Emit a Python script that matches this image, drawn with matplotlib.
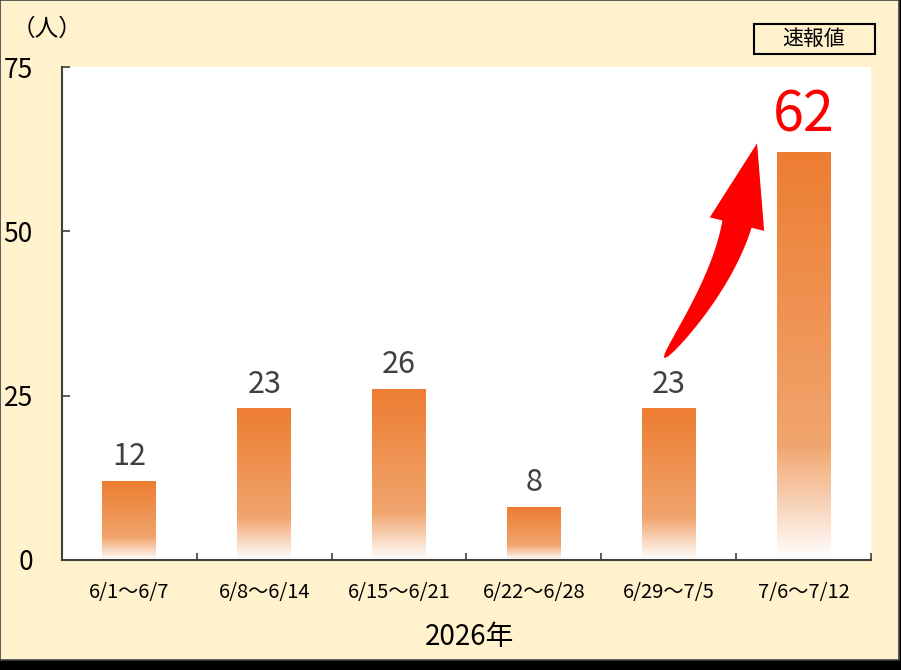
import numpy as np
import matplotlib
matplotlib.use("Agg")
import matplotlib.pyplot as plt
from matplotlib.colors import LinearSegmentedColormap
from matplotlib.patches import Rectangle, Polygon

plt.rcParams['font.family'] = ['Noto Sans CJK JP', 'DejaVu Sans']

# データ
categories = ['6/1～6/7', '6/8～6/14', '6/15～6/21', '6/22～6/28', '6/29～7/5', '7/6～7/12']
values = [12, 23, 26, 8, 23, 62]
yticks = [0, 25, 50, 75]

W, H = 901, 670
fig = plt.figure(figsize=(W / 100, H / 100), dpi=100)
fig.patch.set_facecolor('black')

# 背景（薄い黄色）と枠
fig.add_artist(Rectangle((0, 10 / H), 899 / W, 660 / H, transform=fig.transFigure,
                         facecolor='#FFF2CC', edgecolor='#404040', lw=1.2, zorder=0))

ax = fig.add_axes([62 / W, 110 / H, 809 / W, 493 / H])
ax.set_facecolor('white')

# グラデーションの棒
cmap = LinearSegmentedColormap.from_list('grad', [(0.0, '#ED7D31'), (0.72, '#F1A56E'), (1.0, '#FFFFFF')])
grad = np.linspace(0, 1, 256).reshape(-1, 1)
x = np.arange(len(categories))
bw = 0.40
bars = ax.bar(x, values, width=bw, color='none')
for b in bars:
    ax.imshow(grad, cmap=cmap, aspect='auto', interpolation='bicubic',
              extent=[b.get_x(), b.get_x() + b.get_width(), 0, b.get_height()], zorder=2)
ax.set_xlim(-0.5, len(categories) - 0.5)
ax.set_ylim(0, 75)

# 値ラベル
for i, v in enumerate(values):
    if i == len(values) - 1:
        ax.annotate(str(v), (i, v), xytext=(0, 15), textcoords='offset points',
                    ha='center', va='baseline', fontsize=40, color='#FF0000')
    else:
        ax.annotate(str(v), (i, v), xytext=(0, 11.5), textcoords='offset points',
                    ha='center', va='baseline', fontsize=22, color='#404040')

# 軸
for s in ['top', 'right']:
    ax.spines[s].set_visible(False)
for s in ['left', 'bottom']:
    ax.spines[s].set_color('#404040')
    ax.spines[s].set_linewidth(1.5)
ax.set_yticks(yticks)
ax.tick_params(axis='y', direction='in', length=6, width=1.2, color='#404040',
               labelsize=19, pad=21, labelcolor='black')
ax.set_xticks(x)
ax.set_xticklabels(categories)
ax.tick_params(axis='x', which='major', length=0, labelsize=14.5, pad=16, labelcolor='black')
ax.set_xticks(np.arange(len(categories) + 1) - 0.5, minor=True)
ax.tick_params(axis='x', which='minor', direction='in', length=5, width=1.2, color='#404040')

# 矢印（5本目のラベルから6本目の棒へ）
tail = ax.transData.transform((3.965, 30.7))
base = ax.transData.transform((4.506, 51.1))
tip = ax.transData.transform((4.655, 63.4))
d = (tip - base) / np.linalg.norm(tip - base)
ctrl = base - 60 * d
t = np.linspace(0, 1, 60)[:, None]
curve = (1 - t) ** 2 * tail + 2 * (1 - t) * t * ctrl + t ** 2 * base
deriv = 2 * (1 - t) * (ctrl - tail) + 2 * t * (base - ctrl)
deriv = deriv / np.linalg.norm(deriv, axis=1, keepdims=True)
normal = np.column_stack([-deriv[:, 1], deriv[:, 0]])
half = 15 * t ** 0.5
left = curve + normal * half
right = curve - normal * half
n_end = np.array([-d[1], d[0]])
head = np.array([base + n_end * 28, tip, base - n_end * 28])
pts_px = np.vstack([left, head, right[::-1]])
pts = ax.transData.inverted().transform(pts_px)
ax.add_patch(Polygon(pts, closed=True, facecolor='#FF0000', edgecolor='none', zorder=4))

# テキスト
fig.text(47 / W, 1 - 29 / H, '（人）', ha='center', va='center', fontsize=17)
fig.text(470 / W, 1 - 645 / H, '2026年', ha='center', va='baseline', fontsize=20)
fig.add_artist(Rectangle((754 / W, 1 - 54 / H), 121 / W, 30 / H, transform=fig.transFigure,
                         facecolor='none', edgecolor='black', lw=1.5))
fig.text(814 / W, 1 - 39 / H, '速報値', ha='center', va='center', fontsize=15)

fig.savefig('out.png', dpi=100, facecolor=fig.get_facecolor())
